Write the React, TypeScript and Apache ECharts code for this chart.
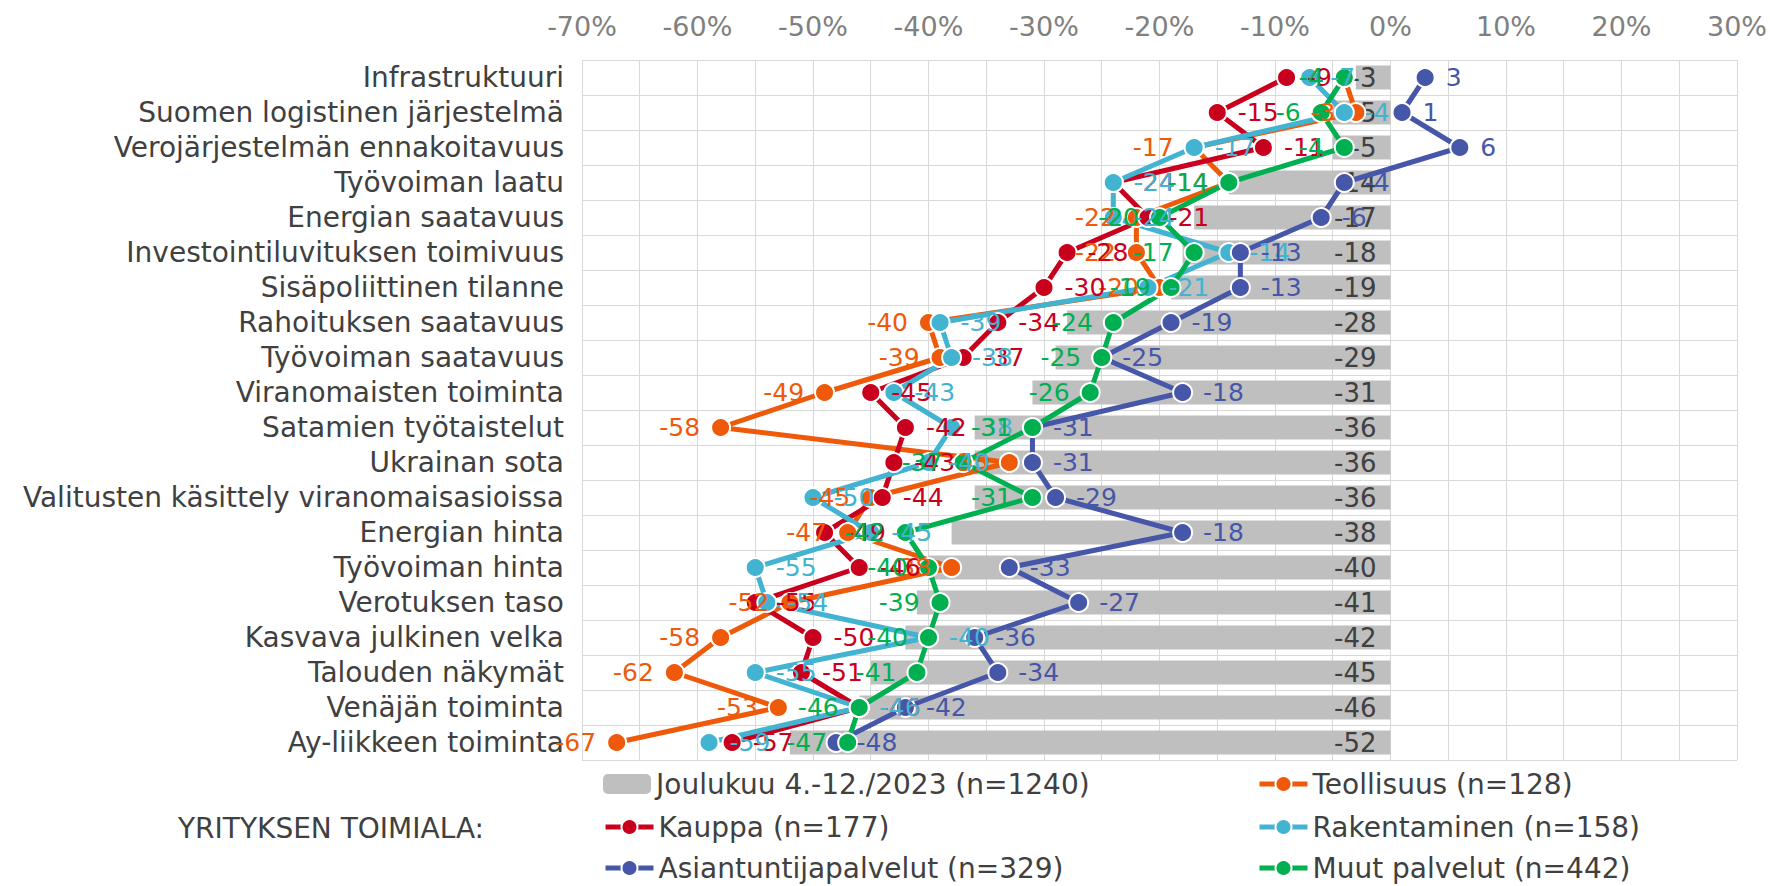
import React, { useEffect, useRef } from "react";
import * as echarts from "echarts";

const categories = [
  "Infrastruktuuri",
  "Suomen logistinen järjestelmä",
  "Verojärjestelmän ennakoitavuus",
  "Työvoiman laatu",
  "Energian saatavuus",
  "Investointiluvituksen toimivuus",
  "Sisäpoliittinen tilanne",
  "Rahoituksen saatavuus",
  "Työvoiman saatavuus",
  "Viranomaisten toiminta",
  "Satamien työtaistelut",
  "Ukrainan sota",
  "Valitusten käsittely viranomaisasioissa",
  "Energian hinta",
  "Työvoiman hinta",
  "Verotuksen taso",
  "Kasvava julkinen velka",
  "Talouden näkymät",
  "Venäjän toiminta",
  "Ay-liikkeen toiminta",
];

const total = [-3, -5, -5, -14, -17, -18, -19, -28, -29, -31, -36, -36, -36, -38, -40, -41, -42, -45, -46, -52];
const teollisuus = [-4, -3, -17, -14, -22, -22, -20, -40, -39, -49, -58, -33, -45, -47, -38, -52, -58, -62, -53, -67];
const kauppa = [-9, -15, -11, -24, -21, -28, -30, -34, -37, -45, -42, -43, -44, -49, -46, -55, -50, -51, -46, -57];
const rakentaminen = [-7, -4, -17, -24, -24, -14, -21, -39, -38, -43, -38, -40, -50, -45, -55, -54, -40, -55, -46, -59];
const asiantuntija = [3, 1, 6, -4, -6, -13, -13, -19, -25, -18, -31, -31, -29, -18, -33, -27, -36, -34, -42, -48];
const muut = [-4, -6, -4, -14, -20, -17, -19, -24, -25, -26, -31, -37, -31, -42, -40, -39, -40, -41, -46, -47];

const names = {
  total: "Joulukuu 4.-12./2023 (n=1240)",
  teollisuus: "Teollisuus (n=128)",
  kauppa: "Kauppa (n=177)",
  rakentaminen: "Rakentaminen (n=158)",
  asiantuntija: "Asiantuntijapalvelut (n=329)",
  muut: "Muut palvelut (n=442)",
};

const FONT = "DejaVu Sans";

function lineSeries(name: string, data: number[], color: string, pos: string) {
  return {
    name,
    type: "line",
    data,
    symbol: "circle",
    symbolSize: 19,
    lineStyle: { color, width: 5 },
    itemStyle: { color, borderColor: "#ffffff", borderWidth: 2 },
    label: {
      show: true,
      position: pos,
      distance: 10,
      color,
      fontSize: 25,
      fontFamily: FONT,
      formatter: (p: any) => String(p.value),
    },
  };
}

function legendItem(name: string, left: number, centerY: number) {
  return {
    data: [name],
    left,
    top: centerY - 17,
    padding: 0,
    itemWidth: 48,
    itemHeight: 20,
    itemGap: 6,
    lineStyle: { width: 5 },
    textStyle: { color: "#404040", fontSize: 28, fontFamily: FONT },
  };
}

export default function App() {
  const ref = useRef<HTMLDivElement>(null);
  useEffect(() => {
    document.body.style.margin = "0";
    const chart = echarts.init(ref.current!, null, { renderer: "svg" });
    chart.setOption({
      animation: false,
      backgroundColor: "#ffffff",
      textStyle: { fontFamily: FONT },
      grid: { left: 582, right: 32, top: 60, bottom: 126, containLabel: false },
      xAxis: {
        type: "value",
        position: "top",
        min: -70,
        max: 30,
        interval: 5,
        axisLine: { show: false },
        axisTick: { show: false },
        splitLine: { show: true, lineStyle: { color: "#D9D9D9", width: 1 } },
        axisLabel: {
          color: "#808080",
          fontSize: 27,
          fontFamily: FONT,
          margin: 20,
          formatter: (v: number) => (Math.round(v) % 10 === 0 ? v + "%" : ""),
        },
      },
      yAxis: {
        type: "category",
        inverse: true,
        data: categories,
        axisLine: { show: false },
        axisTick: { show: false },
        splitLine: { show: true, interval: 0, lineStyle: { color: "#D9D9D9", width: 1 } },
        axisLabel: { color: "#404040", fontSize: 28, fontFamily: FONT, margin: 18, interval: 0 },
      },
      legend: [
        legendItem(names.total, 603, 787),
        legendItem(names.kauppa, 603, 830),
        legendItem(names.asiantuntija, 603, 871),
        legendItem(names.teollisuus, 1257, 787),
        legendItem(names.rakentaminen, 1257, 830),
        legendItem(names.muut, 1257, 871),
      ],
      graphic: [
        {
          type: "text",
          left: 178,
          top: 814,
          style: { text: "YRITYKSEN TOIMIALA:", fill: "#404040", font: `28px "${FONT}"` },
        },
      ],
      series: [
        {
          name: names.total,
          type: "bar",
          data: total,
          barWidth: 24,
          itemStyle: { color: "#BFBFBF" },
          label: {
            show: true,
            position: "insideRight",
            distance: 14,
            color: "#404040",
            fontSize: 26,
            fontFamily: FONT,
          },
        },
        lineSeries(names.teollisuus, teollisuus, "#EE5A0A", "left"),
        lineSeries(names.kauppa, kauppa, "#C8001E", "right"),
        lineSeries(names.rakentaminen, rakentaminen, "#42B3D0", "right"),
        lineSeries(names.asiantuntija, asiantuntija, "#4656A8", "right"),
        lineSeries(names.muut, muut, "#00B050", "left"),
      ],
    });
    return () => chart.dispose();
  }, []);
  return <div ref={ref} style={{ position: "absolute", left: 0, top: 0, width: 1770, height: 886 }} />;
}
